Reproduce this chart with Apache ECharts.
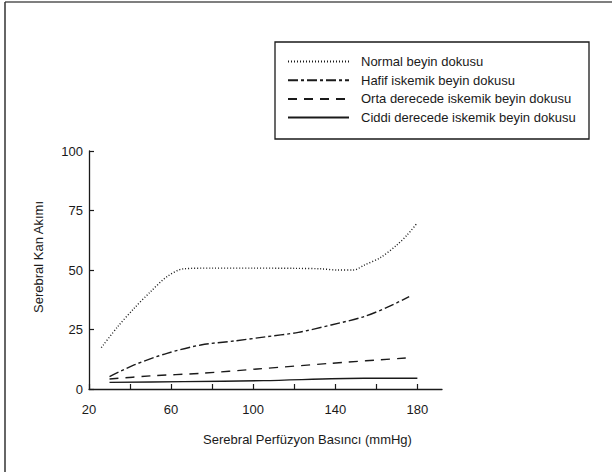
<!DOCTYPE html>
<html>
<head>
<meta charset="utf-8">
<script src="https://cdn.jsdelivr.net/npm/echarts@6/dist/echarts.min.js"></script>
<style>
html,body{margin:0;padding:0;background:#fff;}
#c{width:612px;height:472px;}
</style>
</head>
<body>
<div id="c"></div>
<script>
// ---- data ----
const seriesNames = [
  'Normal beyin dokusu',
  'Hafif iskemik beyin dokusu',
  'Orta derecede iskemik beyin dokusu',
  'Ciddi derecede iskemik beyin dokusu'
];
const normalCPP = [26, 34, 42, 50, 58, 66, 80, 100, 120, 133, 141, 149, 154, 162, 170, 175, 179.5];
const normalCBF = [17.4, 26.2, 33.9, 40.9, 47.2, 50.5, 50.8, 50.8, 50.7, 50.5, 50.0, 50.0, 52.0, 55.2, 60.5, 64.7, 69.3];
const hafifCPP = [30, 42, 58, 74.5, 91, 105, 122, 138, 154, 166, 176];
const hafifCBF = [5.2, 10.1, 15.0, 18.5, 20.2, 21.8, 23.8, 26.9, 30.4, 34.6, 38.8];
const ortaCPP = [30, 50, 74.5, 102, 138, 177];
const ortaCBF = [4.2, 5.5, 6.6, 8.4, 10.8, 13.2];
const ciddiCPP = [30, 66, 105, 154, 180];
const ciddiCBF = [2.8, 3.1, 3.5, 4.5, 4.5];
const yTicks = [0, 25, 50, 75, 100];
const xLabelValues = [20, 60, 100, 140, 180];

const xName = 'Serebral Perfüzyon Basıncı (mmHg)';
const yName = 'Serebral Kan Akımı';

function pairs(xs, ys) { return xs.map((x, i) => [x, ys[i]]); }

const ink = '#1a1a1a';
const font = 'Liberation Sans, Arial, Helvetica, sans-serif';

const chart = echarts.init(document.getElementById('c'), null, {renderer: 'svg'});
chart.setOption({
  animation: false,
  backgroundColor: '#fff',
  textStyle: {fontFamily: font},
  grid: {left: 89, right: 170, top: 151, bottom: 83, containLabel: false},
  xAxis: {
    type: 'value', min: 20, max: 192, interval: 20,
    name: xName, nameLocation: 'middle', nameGap: 44,
    nameTextStyle: {fontSize: 13, color: ink, padding: [0, 0, 0, 84], fontFamily: font},
    axisLine: {lineStyle: {color: ink, width: 1.3}},
    axisTick: {show: true, inside: true, length: 5, lineStyle: {color: ink, width: 1.2}},
    axisLabel: {
      fontSize: 13, color: ink, margin: 14, showMaxLabel: false, fontFamily: font,
      formatter: v => (xLabelValues.indexOf(v) >= 0 ? String(v) : '')
    },
    splitLine: {show: false}
  },
  yAxis: {
    type: 'value', min: 0, max: 100, interval: 25,
    name: yName, nameLocation: 'middle', nameGap: 44,
    nameTextStyle: {fontSize: 13, color: ink, padding: [0, 0, 0, 26], fontFamily: font},
    axisLine: {show: true, lineStyle: {color: ink, width: 1.3}},
    axisTick: {show: true, inside: true, length: 5, lineStyle: {color: ink, width: 1.2}},
    axisLabel: {fontSize: 13, color: ink, margin: 6, fontFamily: font,
      formatter: v => (yTicks.indexOf(v) >= 0 ? String(v) : '')},
    splitLine: {show: false}
  },
  legend: {
    orient: 'vertical', left: 287, top: 55, padding: 0,
    itemWidth: 61, itemHeight: 14, itemGap: 5.7,
    itemStyle: {color: 'rgba(0,0,0,0)', borderColor: 'rgba(0,0,0,0)', borderWidth: 0, opacity: 0},
    textStyle: {fontSize: 13, color: ink, padding: [0, 0, 0, 7], fontFamily: font},
    data: seriesNames
  },
  graphic: [
    {type: 'rect', shape: {x: 275, y: 42, width: 314, height: 97},
     style: {fill: 'none', stroke: ink, lineWidth: 1.3}, silent: true},
    {type: 'line', shape: {x1: 5, y1: 2, x2: 612, y2: 2},
     style: {stroke: '#555', lineWidth: 1.5}, silent: true},
    {type: 'line', shape: {x1: 5, y1: 2, x2: 5, y2: 472},
     style: {stroke: '#333', lineWidth: 1.5}, silent: true}
  ],
  series: [
    {name: seriesNames[0], type: 'line', data: pairs(normalCPP, normalCBF),
     smooth: 0.3, symbol: 'none', showSymbol: false,
     lineStyle: {color: ink, width: 1.4, type: [1, 2]}, itemStyle: {color: ink}},
    {name: seriesNames[1], type: 'line', data: pairs(hafifCPP, hafifCBF),
     smooth: 0.3, symbol: 'none', showSymbol: false,
     lineStyle: {color: ink, width: 1.4, type: [10, 3, 3, 3]}, itemStyle: {color: ink}},
    {name: seriesNames[2], type: 'line', data: pairs(ortaCPP, ortaCBF),
     smooth: 0.3, symbol: 'none', showSymbol: false,
     lineStyle: {color: ink, width: 1.4, type: [9, 7]}, itemStyle: {color: ink}},
    {name: seriesNames[3], type: 'line', data: pairs(ciddiCPP, ciddiCBF),
     smooth: 0.3, symbol: 'none', showSymbol: false,
     lineStyle: {color: ink, width: 1.4, type: 'solid'}, itemStyle: {color: ink}}
  ]
});
</script>
</body>
</html>
